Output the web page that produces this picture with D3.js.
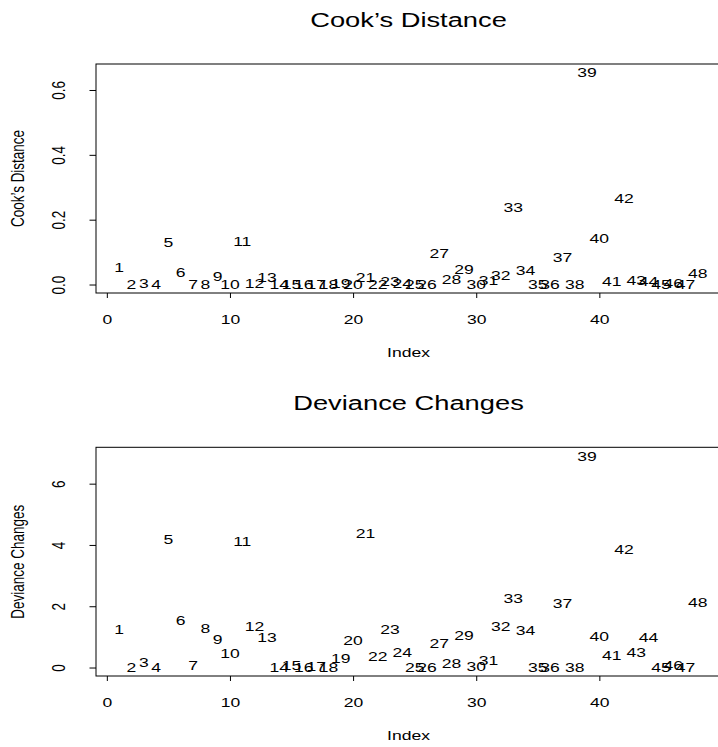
<!DOCTYPE html>
<html>
<head>
<meta charset="utf-8">
<script src="https://cdn.jsdelivr.net/npm/d3@7"></script>
<style>
  body { margin: 0; background: #fff; }
  svg { display: block; font-family: "Liberation Sans", Arial, Helvetica, sans-serif; }
</style>
</head>
<body>
<div id="chart"></div>
<script>
// observation index
var obsIndex = [1, 2, 3, 4, 5, 6, 7, 8, 9, 10, 11, 12, 13, 14, 15, 16,
  17, 18, 19, 20, 21, 22, 23, 24, 25, 26, 27, 28, 29, 30, 31, 32,
  33, 34, 35, 36, 37, 38, 39, 40, 41, 42, 43, 44, 45, 46, 47, 48];

var cooksD = [0.055, 0.000, 0.005, 0.000, 0.130, 0.037, 0.002, 0.002,
  0.027, 0.000, 0.135, 0.005, 0.024, 0.000, 0.002, 0.000,
  0.000, 0.000, 0.003, 0.000, 0.024, 0.000, 0.011, 0.003,
  0.000, 0.000, 0.098, 0.016, 0.047, 0.002, 0.015, 0.029,
  0.240, 0.044, 0.000, 0.000, 0.084, 0.000, 0.654, 0.143,
  0.010, 0.267, 0.013, 0.010, 0.002, 0.003, 0.000, 0.034];

var devChange = [1.25, 0.00, 0.16, 0.01, 4.20, 1.56, 0.09, 1.29,
  0.94, 0.47, 4.13, 1.34, 0.99, 0.00, 0.09, 0.02,
  0.06, 0.00, 0.31, 0.88, 4.39, 0.36, 1.26, 0.49,
  0.00, 0.00, 0.80, 0.14, 1.06, 0.03, 0.25, 1.34,
  2.25, 1.23, 0.01, 0.01, 2.10, 0.00, 6.91, 1.01,
  0.39, 3.86, 0.49, 0.99, 0.01, 0.09, 0.01, 2.12];

var xTicks = [0, 10, 20, 30, 40];
var cookTicks = [0, 0.2, 0.4, 0.6];
var devTicks = [0, 2, 4, 6];

var svgWidth = 718;
var svgHeight = 747;
var sx = 1.3;   // the picture is stretched sideways

var svg = d3.select("#chart")
  .append("svg")
  .attr("width", svgWidth)
  .attr("height", svgHeight);

// R style range: data range padded 4% each side
function padExtent(vals) {
  var ext = d3.extent(vals);
  var pad = (ext[1] - ext[0]) * 0.04;
  return [ext[0] - pad, ext[1] + pad];
}

function drawPanel(opts) {
  var left = 96, right = 721;
  var top = opts.top, bottom = opts.bottom;

  var xScale = d3.scaleLinear()
    .domain(padExtent(obsIndex))
    .range([left, right]);
  var yScale = d3.scaleLinear()
    .domain(padExtent(opts.values))
    .range([bottom, top]);

  var g = svg.append("g");

  // title
  g.append("text")
    .attr("transform", `translate(${(left + right) / 2}, ${top - 37}) scale(${sx},1)`)
    .attr("text-anchor", "middle")
    .style("font-size", "21px")
    .text(opts.title);

  // x axis
  var xAxis = d3.axisBottom(xScale)
    .tickValues(xTicks)
    .tickSize(5)
    .tickSizeOuter(0);
  var xg = g.append("g")
    .attr("transform", `translate(0, ${bottom})`)
    .call(xAxis);
  xg.select(".domain").remove();
  xg.selectAll("line").attr("stroke", "#000");
  xg.selectAll("text")
    .attr("y", 31)
    .attr("dy", 0)
    .attr("transform", `scale(${sx},1)`)
    .attr("fill", "#000")
    .style("font-size", "13.5px")
    .style("font-family", "Liberation Sans, Arial, sans-serif");

  // y axis
  var yAxis = d3.axisLeft(yScale)
    .tickValues(opts.ticks)
    .tickFormat(opts.fmt)
    .tickSize(6.5)
    .tickSizeOuter(0);
  var yg = g.append("g")
    .attr("transform", `translate(${left}, 0)`)
    .call(yAxis);
  yg.select(".domain").remove();
  yg.selectAll("line").attr("stroke", "#000");
  yg.selectAll("text")
    .attr("x", 0)
    .attr("dy", 0)
    .attr("text-anchor", "middle")
    .attr("transform", `translate(-31, 0) scale(${sx},1) rotate(-90)`)
    .attr("fill", "#000")
    .style("font-size", "13.5px")
    .style("font-family", "Liberation Sans, Arial, sans-serif");

  // box
  g.append("rect")
    .attr("x", left)
    .attr("y", top)
    .attr("width", right - left)
    .attr("height", bottom - top)
    .attr("fill", "none")
    .attr("stroke", "#000")
    .attr("stroke-width", 1);

  // axis titles
  g.append("text")
    .attr("transform", `translate(${(left + right) / 2}, ${bottom + 64}) scale(${sx},1)`)
    .attr("text-anchor", "middle")
    .style("font-size", "13.5px")
    .text("Index");

  g.append("text")
    .attr("transform", `translate(24, ${(top + bottom) / 2}) scale(${sx},1) rotate(-90)`)
    .attr("text-anchor", "middle")
    .style("font-size", "13.5px")
    .text(opts.title);

  // point labels
  g.selectAll(".pt")
    .data(opts.values)
    .enter()
    .append("text")
    .attr("class", "pt")
    .attr("transform", (d, i) => `translate(${xScale(obsIndex[i])}, ${yScale(d)}) scale(${sx},1)`)
    .attr("dy", "0.36em")
    .attr("text-anchor", "middle")
    .style("font-size", "13.5px")
    .text((d, i) => obsIndex[i]);
}

drawPanel({
  title: "Cook\u2019s Distance",
  values: cooksD,
  ticks: cookTicks,
  fmt: d3.format(".1f"),
  top: 64,
  bottom: 293
});

drawPanel({
  title: "Deviance Changes",
  values: devChange,
  ticks: devTicks,
  fmt: d3.format("d"),
  top: 447.3,
  bottom: 676
});
</script>
</body>
</html>
